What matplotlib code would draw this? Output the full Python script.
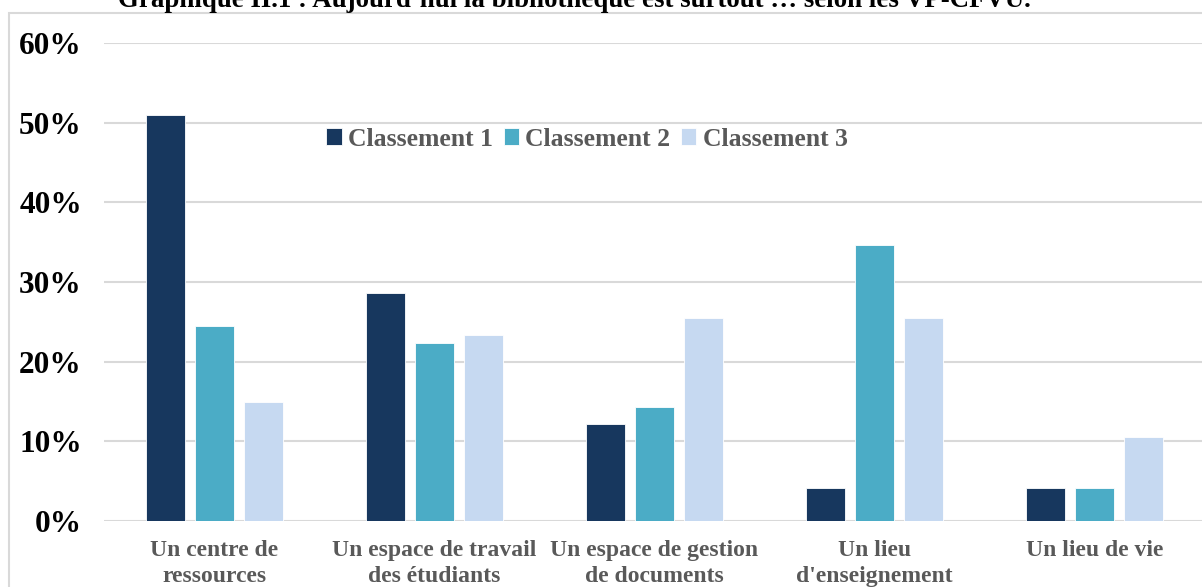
import numpy as np
import matplotlib
matplotlib.use("Agg")
import matplotlib.pyplot as plt
from matplotlib.patches import Rectangle
from matplotlib.ticker import PercentFormatter

# Data
categories = ["Un centre de\nressources", "Un espace de travail\ndes étudiants",
              "Un espace de gestion\nde documents", "Un lieu\nd'enseignement",
              "Un lieu de vie"]
classement1 = [51.0, 28.6, 12.2, 4.1, 4.1]
classement2 = [24.5, 22.4, 14.3, 34.7, 4.1]
classement3 = [14.9, 23.4, 25.5, 25.5, 10.6]
series_names = ["Classement 1", "Classement 2", "Classement 3"]
colors = ["#17375E", "#4BACC6", "#C6D9F1"]
title = "Graphique II.1 : Aujourd’hui la bibliothèque est surtout … selon les VP-CFVU."

plt.rcParams['font.family'] = ['Liberation Serif', 'DejaVu Serif']

W, H = 1202, 587
fig = plt.figure(figsize=(W / 100, H / 100), dpi=100)
ax = fig.add_axes([104 / W, 1 - 521 / H, (1205 - 104) / W, (521 - 43) / H])

x = np.arange(len(categories))
step = 0.2227
width = 0.177
for i, (vals, name, c) in enumerate(zip([classement1, classement2, classement3],
                                         series_names, colors)):
    ax.bar(x + (i - 1) * step, vals, width, color=c, label=name,
           edgecolor="white", linewidth=0.6, zorder=3)

ax.set_xlim(-0.5, len(categories) - 0.5)
ax.set_ylim(0, 60)
ax.set_yticks(np.arange(0, 61, 10))
ax.yaxis.set_major_formatter(PercentFormatter(decimals=0))
ax.grid(axis="y", color="#D9D9D9", linewidth=1.5, zorder=0)
for s in ax.spines.values():
    s.set_visible(False)
ax.tick_params(axis="y", length=0, pad=16, labelsize=22.5, labelcolor="black")
ax.tick_params(axis="x", length=0, pad=14, labelsize=17, labelcolor="#595959")
for t in ax.get_yticklabels():
    t.set_fontweight("bold")
ax.set_xticks(x)
ax.set_xticklabels(categories, fontweight="bold", linespacing=1.28)

leg = ax.legend(ncol=3, loc="center", bbox_to_anchor=(587 / W, 1 - 139 / H),
                bbox_transform=fig.transFigure, frameon=False,
                prop={"weight": "bold", "size": 18.5}, labelcolor="#595959",
                handlelength=0.6, handleheight=0.6, handletextpad=0.25,
                columnspacing=0.4, borderaxespad=0, borderpad=0)

# chart border (cropped picture)
fig.patches.append(Rectangle((9 / W, -0.05), 1.1, 1 - 13 / H + 0.05,
                             transform=fig.transFigure, fill=False,
                             edgecolor="#D9D9D9", linewidth=1.5))

fig.text(574 / W, 1 - 7 / H, title, ha="center", va="baseline",
         fontsize=19.4, fontweight="bold", color="black")

fig.savefig("out.png", dpi=100, facecolor="white")
